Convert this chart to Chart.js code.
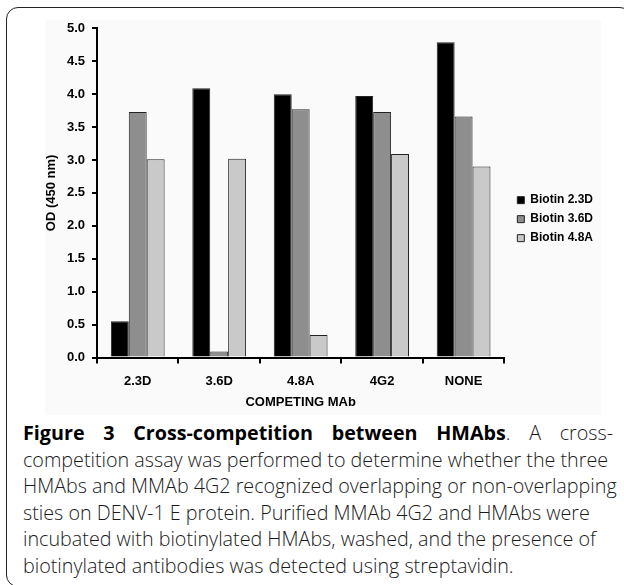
<!DOCTYPE html>
<html>
<head>
<meta charset="utf-8">
<script src="https://cdn.jsdelivr.net/npm/chart.js@4.4.0/dist/chart.umd.min.js"></script>
<style>
  html, body { margin: 0; padding: 0; background: #fff; width: 624px; height: 585px; overflow: hidden; }
  #cadre { position: absolute; left: 6px; top: 7px; width: 626px; height: 580px; border: 1.6px solid #222; border-radius: 12px; box-sizing: border-box; }
  #fond { position: absolute; left: 45px; top: 20px; width: 556px; height: 395px; background: #fafafa; }
  #graphe { position: absolute; left: 0; top: 0; }
  #legende { position: absolute; left: 23px; top: 420px; width: 590px; font-family: "Open Sans", sans-serif; font-weight: 300; color: #1a1a1a; }
  .ligne { line-height: 26.6px; height: 26.6px; white-space: nowrap; }
  .just { white-space: normal; text-align: justify; text-align-last: justify; }
  b { font-weight: 700; color: #000; }
</style>
</head>
<body>
<div id="cadre"></div>
<div id="fond"></div>
<canvas id="graphe" width="624" height="415"></canvas>
<div id="legende">
  <div class="ligne just"><b>Figure 3 Cross-competition between HMAbs</b>. A cross-</div>
  <div class="ligne">competition assay was performed to determine whether the three</div>
  <div class="ligne" id="ref">HMAbs and MMAb 4G2 recognized overlapping or non-overlapping</div>
  <div class="ligne">sties on DENV-1 E protein. Purified MMAb 4G2 and HMAbs were</div>
  <div class="ligne">incubated with biotinylated HMAbs, washed, and the presence of</div>
  <div class="ligne">biotinylated antibodies was detected using streptavidin.</div>
</div>
<script>
// --- DONNÉES ---
const categories = ['2.3D', '3.6D', '4.8A', '4G2', 'NONE'];
const biotin23D = [0.55, 4.09, 4.00, 3.97, 4.79];
const biotin36D = [3.73, 0.09, 3.77, 3.73, 3.66];
const biotin48A = [3.01, 3.02, 0.34, 3.09, 2.90];
const seriesNames = ['Biotin 2.3D', 'Biotin 3.6D', 'Biotin 4.8A'];
const yMin = 0, yMax = 5, yStep = 0.5;

// --- TAILLE DE LA LÉGENDE (ajustée sur la ligne la plus longue) ---
const ctxMesure = document.createElement('canvas').getContext('2d');
ctxMesure.font = '300 100px "Open Sans"';
const largeurRef = ctxMesure.measureText(document.getElementById('ref').textContent).width;
document.getElementById('legende').style.fontSize = (594 / largeurRef * 100).toFixed(2) + 'px';

// --- GRAPHIQUE ---
Chart.defaults.font.family = '"Liberation Sans", Arial, sans-serif';
Chart.defaults.font.weight = 'bold';
Chart.defaults.color = '#000';

const police = { size: 13, weight: 'bold' };

/** Décale un peu la légende vers la droite. */
const decalageLegende = {
  id: 'decalageLegende',
  afterLayout(chart) {
    const lg = chart.legend;
    lg.left += 6; lg.right += 6;
  }
};

const makeDataset = (label, data, color) => ({
  label, data,
  backgroundColor: color,
  borderColor: '#222',
  borderWidth: 1,
  categoryPercentage: 0.66,
  barPercentage: 1.0
});

new Chart(document.getElementById('graphe'), {
  type: 'bar',
  data: {
    labels: categories,
    datasets: [
      makeDataset(seriesNames[0], biotin23D, '#000000'),
      makeDataset(seriesNames[1], biotin36D, '#8e8e8e'),
      makeDataset(seriesNames[2], biotin48A, '#c9c9c9')
    ]
  },
  options: {
    responsive: false,
    animation: false,
    layout: { padding: { left: 35, top: 28.3, right: 27, bottom: 5 } },
    plugins: {
      legend: {
        position: 'right',
        labels: { boxWidth: 7, boxHeight: 7, padding: 7, color: '#000', font: { size: 12, weight: 'bold' } }
      },
      tooltip: { enabled: false }
    },
    scales: {
      x: {
        grid: { display: true, drawOnChartArea: false, tickLength: 6, tickColor: '#000', lineWidth: 2, offset: true },
        border: { color: '#000', width: 2 },
        ticks: { color: '#000', font: police, padding: 10 },
        title: { display: true, text: 'COMPETING MAb', color: '#000', font: police, padding: { top: 0, bottom: 0 } },
        afterFit: (s) => { s.height = 52.5; }
      },
      y: {
        min: yMin, max: yMax,
        grid: { display: true, drawOnChartArea: false, tickLength: 5, tickColor: '#000', lineWidth: 2 },
        border: { color: '#000', width: 2 },
        ticks: { stepSize: yStep, color: '#000', font: police, padding: 7, callback: (v) => Number(v).toFixed(1) },
        title: { display: true, text: 'OD (450 nm)', color: '#000', font: police, padding: { top: 9, bottom: 0 } },
        afterFit: (s) => { s.width = 62; }
      }
    }
  },
  plugins: [decalageLegende]
});
</script>
</body>
</html>
